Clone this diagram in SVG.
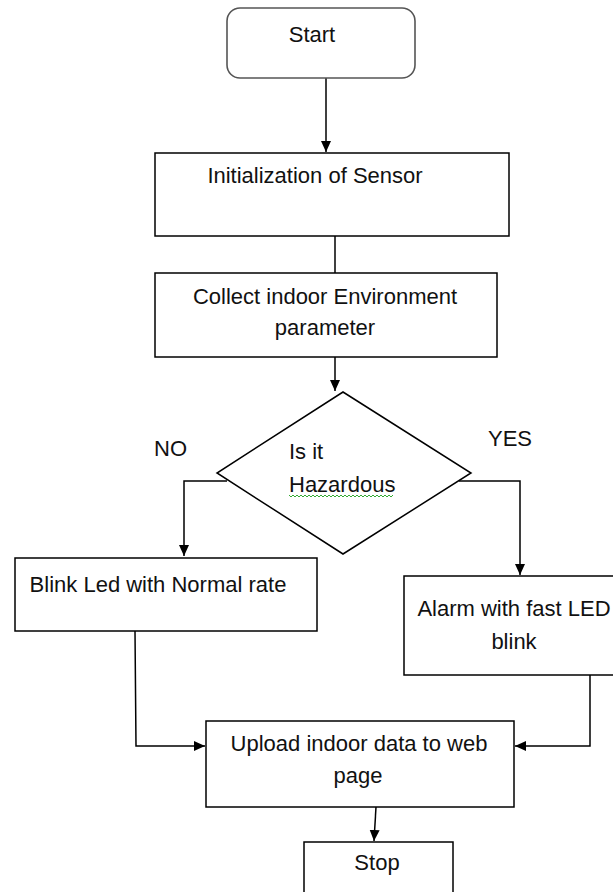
<svg xmlns="http://www.w3.org/2000/svg" width="613" height="892" viewBox="0 0 613 892">
<defs>
<marker id="ah" markerUnits="userSpaceOnUse" markerWidth="12" markerHeight="12" refX="11" refY="6" orient="auto">
<path d="M0,1 L11,6 L0,11 Z" fill="#000"/>
</marker>
<style>
.box{fill:#fff;stroke:#000;stroke-width:1.5}
.rbox{fill:#fff;stroke:#555;stroke-width:1.6}
.t{font-family:"Liberation Sans",Arial,sans-serif;font-size:22px;fill:#111}
.m{text-anchor:middle}
.c{fill:none;stroke:#000;stroke-width:1.5}
</style>
</defs>
<rect width="613" height="892" fill="#fff"/>
<g id="connectors">
<path class="c" d="M326,78 V152" marker-end="url(#ah)"/>
<path class="c" d="M335,236 V273"/>
<path class="c" d="M335,357 V391" marker-end="url(#ah)"/>
<path class="c" d="M227,481 H184 V556" marker-end="url(#ah)"/>
<path class="c" d="M459,481 H520 V575" marker-end="url(#ah)"/>
<path class="c" d="M135,631 L136,746 H205" marker-end="url(#ah)"/>
<path class="c" d="M590,675 V746 H515" marker-end="url(#ah)"/>
<path class="c" d="M376,807 L374,841" marker-end="url(#ah)"/>
</g>
<g id="start">
<rect class="rbox" x="227" y="8" width="188" height="70" rx="13"/>
<text class="t m" x="312" y="42">Start</text>
</g>
<g id="init">
<rect class="box" x="155" y="153" width="354" height="83"/>
<text class="t m" x="315" y="183">Initialization of Sensor</text>
</g>
<g id="collect">
<rect class="box" x="155" y="273" width="342" height="84"/>
<text class="t m" x="325" y="304">Collect indoor Environment</text>
<text class="t m" x="325" y="335">parameter</text>
</g>
<g id="decision">
<polygon class="box" points="343,392 471,473 343,554 217,473"/>
<text class="t" x="289" y="459">Is it</text>
<text class="t" x="289" y="492">Hazardous</text>
<path d="M289,495 l2,2 l2,-2 l2,2 l2,-2 l2,2 l2,-2 l2,2 l2,-2 l2,2 l2,-2 l2,2 l2,-2 l2,2 l2,-2 l2,2 l2,-2 l2,2 l2,-2 l2,2 l2,-2 l2,2 l2,-2 l2,2 l2,-2 l2,2 l2,-2 l2,2 l2,-2 l2,2 l2,-2 l2,2 l2,-2 l2,2 l2,-2 l2,2 l2,-2 l2,2 l2,-2 l2,2 l2,-2 l2,2 l2,-2 l2,2 l2,-2 l2,2 l2,-2 l2,2 l2,-2 l2,2 l2,-2 l2,2 l2,-2" fill="none" stroke="#3a3" stroke-width="1"/>
</g>
<g id="labels">
<text class="t" x="154" y="456">NO</text>
<text class="t" x="488" y="446">YES</text>
</g>
<g id="blink">
<rect class="box" x="15" y="558" width="302" height="73"/>
<text class="t m" x="158" y="592">Blink Led with Normal rate</text>
</g>
<g id="alarm">
<rect class="box" x="404" y="576" width="215" height="99"/>
<text class="t m" x="514" y="616">Alarm with fast LED</text>
<text class="t m" x="514" y="649">blink</text>
</g>
<g id="upload">
<rect class="box" x="206" y="721" width="308" height="86"/>
<text class="t m" x="359" y="751">Upload indoor data to web</text>
<text class="t m" x="358" y="783">page</text>
</g>
<g id="stop">
<rect class="box" x="304" y="842" width="149" height="60"/>
<text class="t m" x="377" y="870">Stop</text>
</g>
</svg>
